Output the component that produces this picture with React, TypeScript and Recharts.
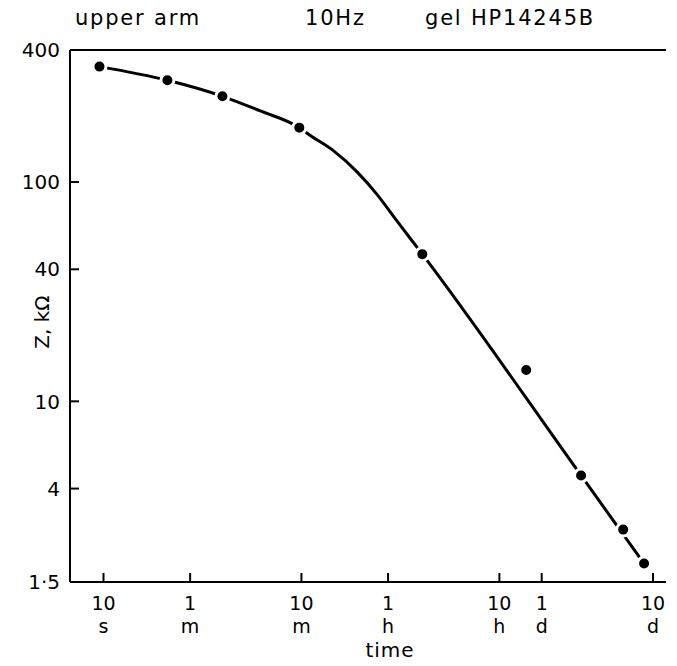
import { ComposedChart, Line, Scatter, XAxis, YAxis, ReferenceLine } from 'recharts';

// time in seconds, impedance in kΩ
const timeTicks = [10, 60, 600, 3600, 36000, 86400, 864000];
const timeNumbers = ['10', '1', '10', '1', '10', '1', '10'];
const timeUnits = ['s', 'm', 'm', 'h', 'h', 'd', 'd'];

const zTicks = [1.5, 4, 10, 40, 100, 400];
const zLabels = ['1·5', '4', '10', '40', '100', '400'];

const measuredTime = [9.2, 37.5, 117, 574, 7310, 62700, 195000, 466000, 718000];
const measuredZ = [336, 291, 246, 177, 46.9, 13.9, 4.59, 2.6, 1.82];

// hand-drawn fit curve
const fitTime = [9.2, 37.5, 117, 256, 574, 721, 1160, 1905, 2885, 4355, 7310, 195000, 718000];
const fitZ = [336, 291, 246, 211, 177, 163, 139, 111, 87.4, 66.1, 46.9, 4.59, 1.82];

const measured = measuredTime.map((t, i) => ({ t, z: measuredZ[i] }));
const fit = fitTime.map((t, i) => ({ t, z: fitZ[i] }));

const font = '"DejaVu Sans", sans-serif';

function ZTick(props: any) {
    const { x, y, payload } = props;
    const label = zLabels[zTicks.indexOf(payload.value)];
    return (
        <g>
            <line x1={x} x2={x + 9} y1={y} y2={y} stroke="#000" strokeWidth={2} />
            <text x={x - 10} y={y} dy="0.36em" textAnchor="end" fontFamily={font} fontSize={20} fill="#000">
                {label}
            </text>
        </g>
    );
}

function TimeTick(props: any) {
    const { x, y, payload } = props;
    const i = timeTicks.indexOf(payload.value);
    return (
        <g>
            <line x1={x} x2={x} y1={y} y2={y - 9} stroke="#000" strokeWidth={2} />
            <text x={x} y={y + 28} textAnchor="middle" fontFamily={font} fontSize={19} fill="#000">
                {timeNumbers[i]}
            </text>
            <text x={x} y={y + 51} textAnchor="middle" fontFamily={font} fontSize={19} fill="#000">
                {timeUnits[i]}
            </text>
        </g>
    );
}

function Dot(props: any) {
    const { cx, cy } = props;
    return <circle cx={cx} cy={cy} r={6.5} fill="#000" stroke="#fff" strokeWidth={3} />;
}

const titleStyle = {
    position: 'absolute' as const,
    top: 8,
    fontFamily: font,
    fontSize: 21,
    lineHeight: '21px',
    letterSpacing: 1.8,
    color: '#000',
    whiteSpace: 'nowrap' as const,
};

export default function App() {
    return (
        <div style={{ position: 'absolute', left: 0, top: 0, width: 677, height: 666, background: '#fff' }}>
            <div style={{ ...titleStyle, left: 75 }}>upper arm</div>
            <div style={{ ...titleStyle, left: 305 }}>10Hz</div>
            <div style={{ ...titleStyle, left: 425 }}>gel HP14245B</div>
            <ComposedChart width={677} height={666} margin={{ top: 50, right: 11, bottom: 24, left: 0 }}>
                <XAxis
                    dataKey="t"
                    type="number"
                    scale="log"
                    domain={[5, 1130000]}
                    allowDataOverflow
                    ticks={timeTicks}
                    interval={0}
                    tickSize={0}
                    tickMargin={0}
                    tickLine={false}
                    tick={TimeTick}
                    height={60}
                    axisLine={{ stroke: '#000', strokeWidth: 2 }}
                    label={() => (
                        <text x={390} y={657} textAnchor="middle" fontFamily={font} fontSize={20} letterSpacing={1} fill="#000">
                            time
                        </text>
                    )}
                />
                <YAxis
                    dataKey="z"
                    type="number"
                    scale="log"
                    domain={[1.5, 400]}
                    allowDataOverflow
                    ticks={zTicks}
                    interval={0}
                    tickSize={0}
                    tickMargin={0}
                    tickLine={false}
                    tick={ZTick}
                    width={70}
                    axisLine={{ stroke: '#000', strokeWidth: 2 }}
                    label={() => (
                        <text
                            x={42}
                            y={322}
                            transform="rotate(-90 42 322)"
                            textAnchor="middle"
                            dy="0.36em"
                            fontFamily={font}
                            fontSize={20}
                            fill="#000"
                        >
                            Z, kΩ
                        </text>
                    )}
                />
                <ReferenceLine y={400} stroke="#000" strokeWidth={2} ifOverflow="visible" />
                <Line
                    data={fit}
                    dataKey="z"
                    type="monotone"
                    stroke="#000"
                    strokeWidth={3}
                    dot={false}
                    activeDot={false}
                    isAnimationActive={false}
                />
                <Scatter data={measured} fill="#000" shape={Dot} isAnimationActive={false} />
            </ComposedChart>
        </div>
    );
}
